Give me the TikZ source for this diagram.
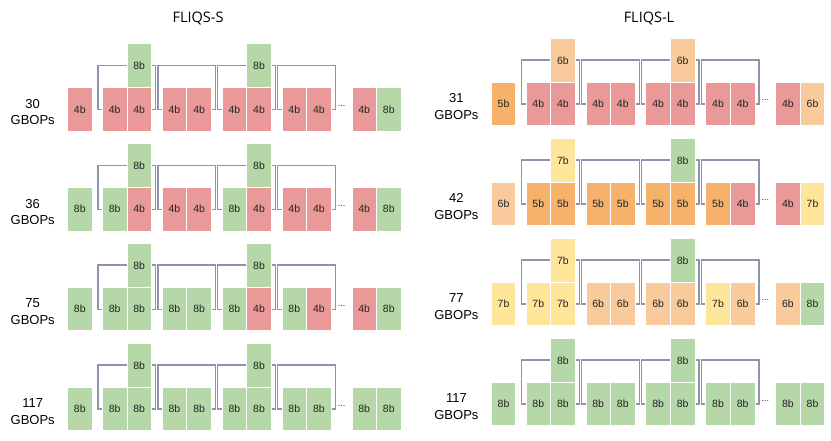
\documentclass[tikz,border=0pt]{standalone}
\usepackage{fontspec}
\setmainfont{Liberation Sans}
\newfontfamily\titlefont{Open Sans}
\usetikzlibrary{calc,backgrounds}
\definecolor{c4}{HTML}{EA9999}
\definecolor{c5}{HTML}{F6B26B}
\definecolor{c6}{HTML}{F9CB9C}
\definecolor{c7}{HTML}{FFE599}
\definecolor{c8}{HTML}{B6D7A8}
\definecolor{skipc}{HTML}{8A95AB}
\definecolor{txt}{HTML}{222222}
\tikzset{
  box/.style={draw=white, line width=0.7pt, minimum width=24.6pt, minimum height=43.4pt,
    inner sep=0pt, outer sep=0pt, anchor=north west, font=\fontsize{10.5}{12}\selectfont, text=txt},
  topbox/.style={box, minimum height=44pt},
  skipline/.style={draw=skipc, line width=1.2pt},
  lab/.style={align=center, font=\fontsize{13}{16.3}\selectfont, text=black, inner sep=0pt},
  ttl/.style={font=\titlefont\fontsize{14.5}{16}\selectfont, text=black},
  dotsnode/.style={font=\fontsize{9}{10}\selectfont, anchor=base, inner sep=0pt, text=txt}
}
% #1 id, #2 x of first pair, #3 top y of row, #4 label, #5 eleven bit values, #6 #7 top boxes
\newcommand\qrow[7]{%
  \foreach \b [count=\i] in {#5} {
    \pgfmathsetmacro\xx{ifthenelse(\i==1, #2-34.8, ifthenelse(\i>=10, #2+249.6+(\i-10)*24.6, #2+floor((\i-2)/2)*59.9+mod(\i-2,2)*24.6))}
    \node[box, fill=c\b] (#1-\i) at (\xx, #3) {\b b};
  }
  \node[topbox, fill=c#6] (#1-t1) at (#2+24.6, #3-44) {#6b};
  \node[topbox, fill=c#7] (#1-t2) at (#2+2*59.9+24.6, #3-44) {#7b};
  \node[lab] (#1-lab) at (#2-69.6, #3+24.2) {#4};
  \node[dotsnode] (#1-dots) at (#2+3*59.9+49.2+10.5, #3+18.7) {...};
  \coordinate (#1-top) at (#2, #3-22.3);
  \begin{pgfonlayer}{background}
    \foreach \k in {0,...,3} {
      \pgfmathtruncatemacro\ia{2+2*\k}
      \pgfmathtruncatemacro\ib{3+2*\k}
      \draw[skipline] (#1-\ia.west) -- ++(-4.3,0) |- ($(#1-top -| #1-\ib.east)+(4,0)$) |- (#1-\ib.east);
    }
  \end{pgfonlayer}
}
\begin{document}
\begin{tikzpicture}[x=1pt, y=-1pt]
\useasboundingbox (0,0) rectangle (831,441);
\node[ttl] (titleS) at (198,18) {FLIQS-S};
\node[ttl] (titleL) at (649,18) {FLIQS-L};
\qrow{S1}{102.3}{87.6}{30\\GBOPs}{4,4,4,4,4,4,4,4,4,4,8}{8}{8}
\qrow{S2}{102.3}{187.5}{36\\GBOPs}{8,8,4,4,4,8,4,4,4,4,8}{8}{8}
\qrow{S3}{102.3}{287.4}{75\\GBOPs}{8,8,8,8,8,8,4,8,4,4,8}{8}{8}
\qrow{S4}{102.3}{387.3}{117\\GBOPs}{8,8,8,8,8,8,8,8,8,8,8}{8}{8}
\qrow{L1}{526}{82.3}{31\\GBOPs}{5,4,4,4,4,4,4,4,4,4,6}{6}{6}
\qrow{L2}{526}{182.3}{42\\GBOPs}{6,5,5,5,5,5,5,5,4,4,7}{7}{8}
\qrow{L3}{526}{282.3}{77\\GBOPs}{7,7,7,6,6,6,6,7,6,6,8}{7}{8}
\qrow{L4}{526}{382.3}{117\\GBOPs}{8,8,8,8,8,8,8,8,8,8,8}{8}{8}
\end{tikzpicture}
\end{document}
